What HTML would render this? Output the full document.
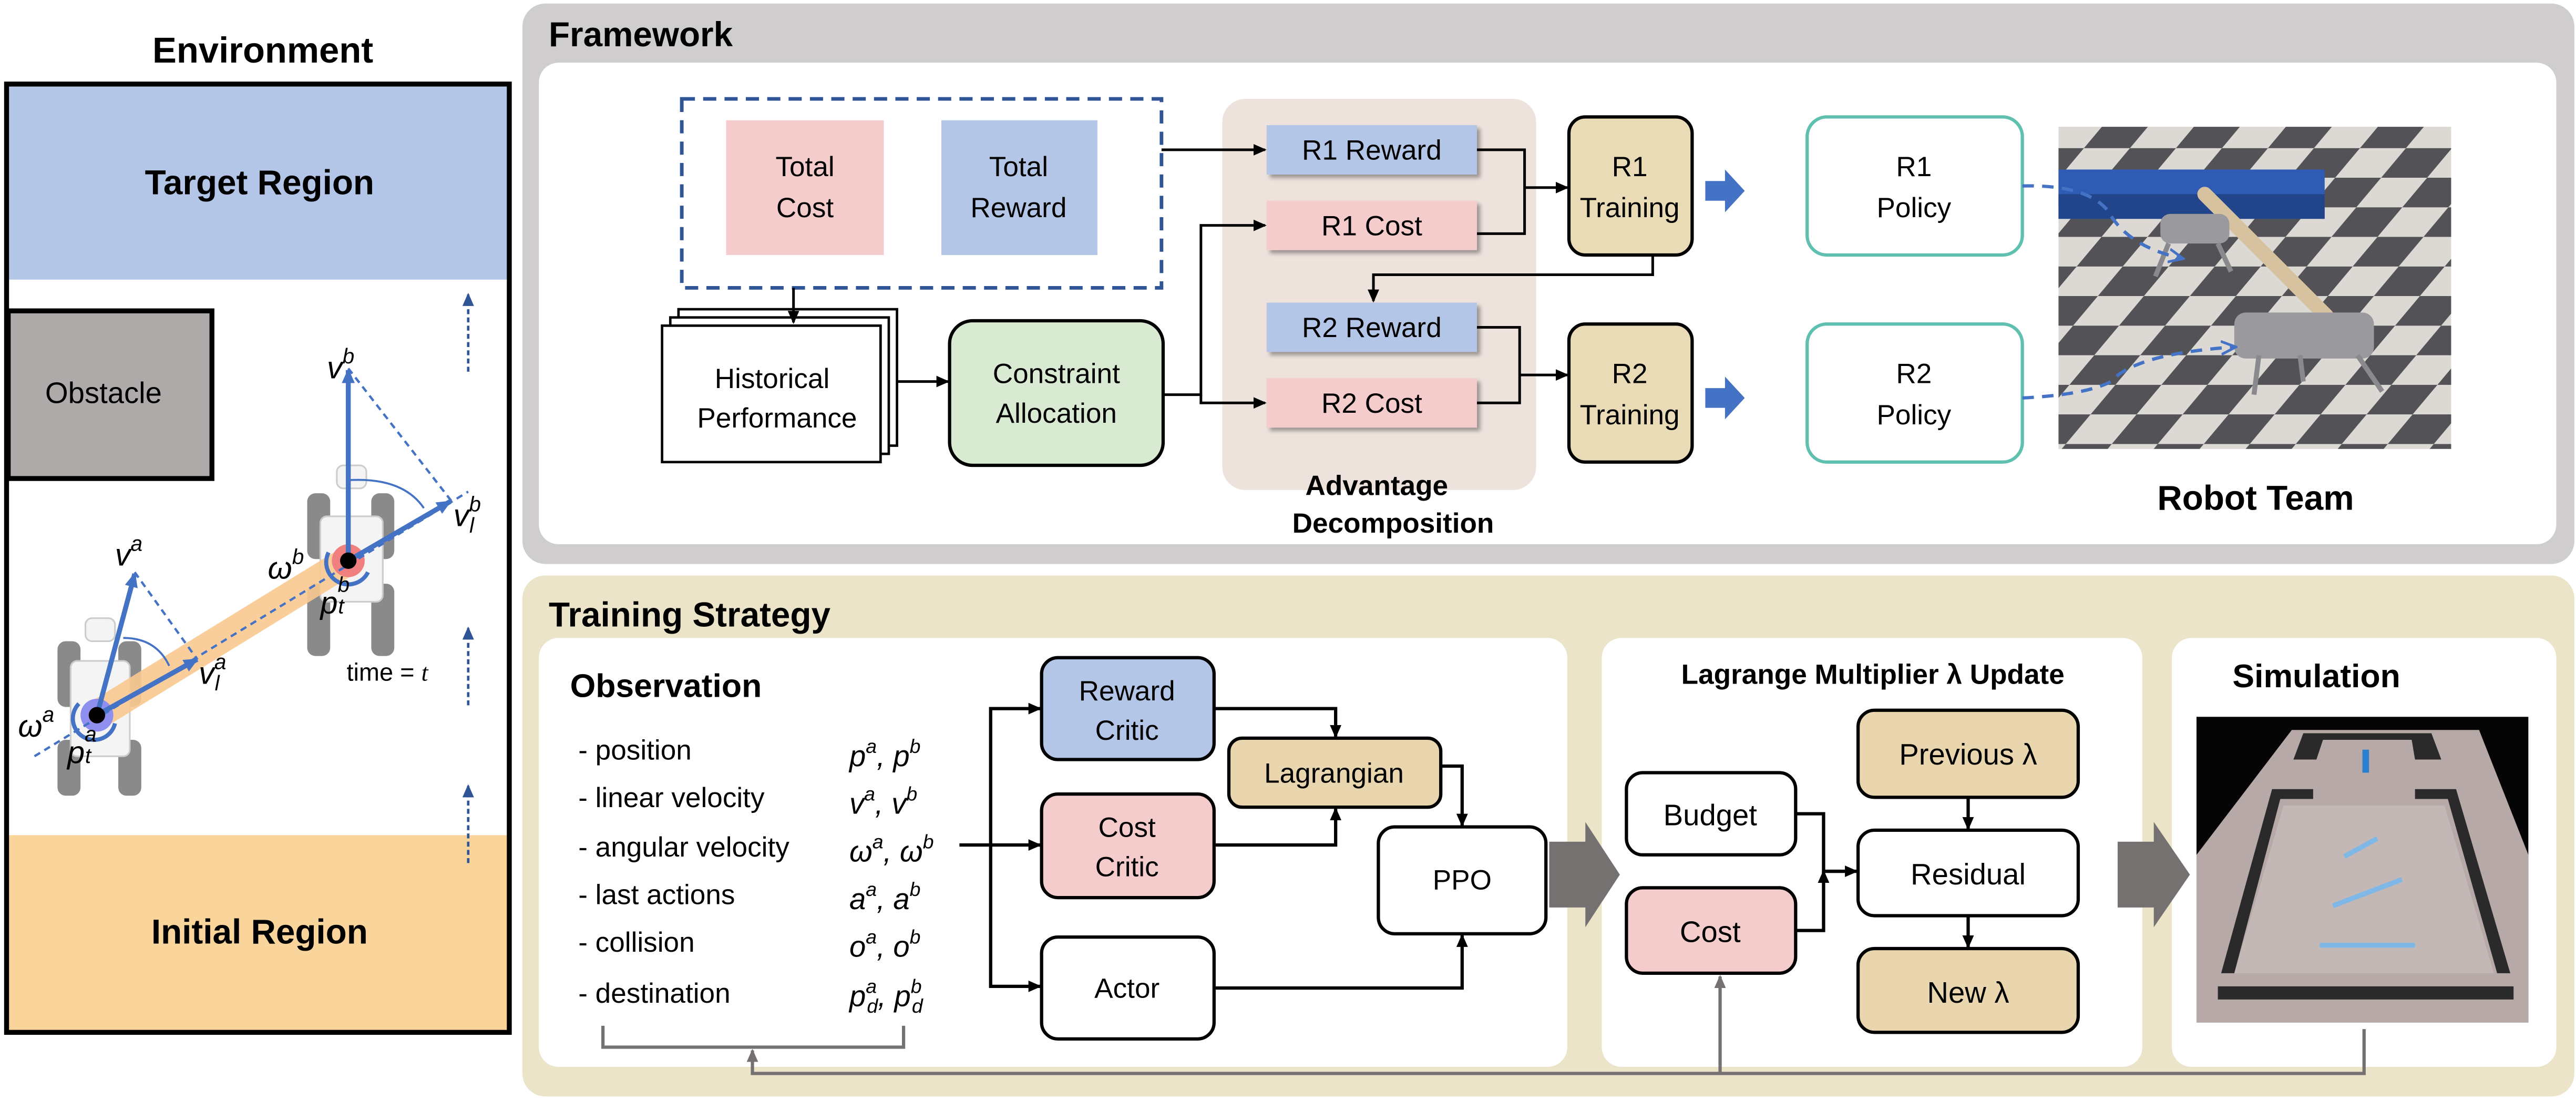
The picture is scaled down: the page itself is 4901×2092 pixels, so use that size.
<!DOCTYPE html>
<html><head><meta charset="utf-8"><style>
html,body{margin:0;padding:0;background:#fff;}
svg{display:block;}
text{font-family:"Liberation Sans",sans-serif;}
.m{font-family:"Liberation Serif",serif;font-style:italic;}
</style></head><body>
<svg width="4901" height="2092" viewBox="0 0 1568 669" xmlns="http://www.w3.org/2000/svg">
<defs>
<marker id="a" markerWidth="8" markerHeight="8" refX="7" refY="4" orient="auto" markerUnits="userSpaceOnUse"><path d="M0,0.5 L8,4 L0,7.5 Z" fill="#000"/></marker>
<marker id="ab" markerWidth="10" markerHeight="10" refX="8" refY="5" orient="auto" markerUnits="userSpaceOnUse"><path d="M0,1 L9,5 L0,9" fill="none" stroke="#4472c4" stroke-width="1.6"/></marker>
<marker id="ab2" markerWidth="9" markerHeight="9" refX="8" refY="4.5" orient="auto" markerUnits="userSpaceOnUse"><path d="M0,0.5 L9,4.5 L0,8.5 Z" fill="#4472c4"/></marker>
<marker id="ag" markerWidth="8" markerHeight="8" refX="7" refY="4" orient="auto" markerUnits="userSpaceOnUse"><path d="M0,0.5 L8,4 L0,7.5 Z" fill="#767171"/></marker>
<marker id="ad" markerWidth="8" markerHeight="8" refX="7" refY="4" orient="auto" markerUnits="userSpaceOnUse"><path d="M0,0.5 L8,4 L0,7.5 Z" fill="#2f5597"/></marker>
<pattern id="chk" width="56" height="36" patternUnits="userSpaceOnUse" patternTransform="skewX(-40)"><rect width="56" height="36" fill="#d8d4d0"/><rect width="28" height="18" fill="#3c3c40"/><rect x="28" y="18" width="28" height="18" fill="#3c3c40"/></pattern>
<filter id="sh" x="-10%" y="-20%" width="130%" height="150%"><feDropShadow dx="2" dy="2" stdDeviation="1.2" flood-color="#000" flood-opacity="0.35"/></filter>
</defs>

<!-- ENVIRONMENT -->
<text x="160" y="38" font-size="22" font-weight="bold" text-anchor="middle">Environment</text>
<rect x="4" y="51" width="306" height="577" fill="#fff"/>
<rect x="5" y="52" width="304" height="118" fill="#b4c6e7"/>
<rect x="5" y="508" width="304" height="119" fill="#f9d59b"/>
<rect x="4" y="51" width="306" height="577" fill="none" stroke="#000" stroke-width="3"/>
<rect x="5" y="189" width="124" height="102" fill="#aeaaaa" stroke="#000" stroke-width="3"/>
<text x="63" y="245" font-size="18" text-anchor="middle">Obstacle</text>
<text x="158" y="118" font-size="21" font-weight="bold" text-anchor="middle">Target Region</text>
<text x="158" y="574" font-size="21" font-weight="bold" text-anchor="middle">Initial Region</text>
<g stroke="#2f5597" stroke-width="1.5" stroke-dasharray="3,2" marker-end="url(#ad)">
<line x1="285" y1="226" x2="285" y2="179"/>
<line x1="285" y1="429" x2="285" y2="382"/>
<line x1="285" y1="525" x2="285" y2="478"/>
</g>
<text x="211" y="414" font-size="15">time = <tspan class="m">t</tspan></text>
<!-- robot a -->
<g fill="#8a8a8a">
<rect x="35" y="390" width="14" height="40" rx="5"/><rect x="72" y="390" width="14" height="40" rx="5"/>
<rect x="35" y="450" width="14" height="34" rx="5"/><rect x="72" y="450" width="14" height="34" rx="5"/>
<rect x="187" y="300" width="14" height="40" rx="5"/><rect x="226" y="300" width="14" height="40" rx="5"/>
<rect x="187" y="355" width="14" height="44" rx="5"/><rect x="226" y="355" width="14" height="44" rx="5"/>
</g>
<g fill="#f4f4f4" stroke="#ccc" stroke-width="1">
<rect x="43" y="402" width="36" height="58" rx="4"/>
<rect x="195" y="314" width="38" height="52" rx="4"/>
<rect x="52" y="376" width="18" height="14" rx="4"/>
<rect x="205" y="283" width="18" height="14" rx="4"/>
</g>
<polygon points="55,427 63,443 216,349 208,333" fill="#f9c98f" opacity="0.9"/>
<circle cx="59" cy="435" r="10" fill="#8f8ff0"/>
<circle cx="212" cy="341" r="10" fill="#f08080"/>
<path d="M48,428 A13,13 0 1 0 70,440" fill="none" stroke="#4472c4" stroke-width="2.5"/>
<path d="M200,336 A13,13 0 1 0 224,348" fill="none" stroke="#4472c4" stroke-width="2.5"/>
<g stroke="#4472c4" stroke-width="1.4" stroke-dasharray="4,3" fill="none">
<line x1="21" y1="460" x2="285" y2="299"/>
<line x1="82" y1="348" x2="120" y2="401"/>
<line x1="212" y1="224" x2="275" y2="305"/>
</g>
<g stroke="#4472c4" stroke-width="3" marker-end="url(#ab2)">
<line x1="59" y1="435" x2="82" y2="349"/>
<line x1="59" y1="435" x2="120" y2="401"/>
<line x1="212" y1="341" x2="212" y2="225"/>
<line x1="212" y1="341" x2="274" y2="305"/>
</g>
<path d="M75,388 Q95,388 103,405" fill="none" stroke="#4472c4" stroke-width="1.2"/>
<path d="M212,292 Q245,290 258,309" fill="none" stroke="#4472c4" stroke-width="1.2"/>
<circle cx="59" cy="435" r="5" fill="#000"/>
<circle cx="212" cy="341" r="5" fill="#000"/>
<g class="m" font-size="19">
<text x="70" y="344">v<tspan font-size="13" dy="-9">a</tspan></text>
<text x="121" y="416">v<tspan font-size="13" dy="-9">a</tspan><tspan font-size="13" dx="-7" dy="13">l</tspan></text>
<text x="199" y="230">v<tspan font-size="13" dy="-9">b</tspan></text>
<text x="276" y="320">v<tspan font-size="13" dy="-9">b</tspan><tspan font-size="13" dx="-7" dy="13">l</tspan></text>
<text x="11" y="448">ω<tspan font-size="13" dy="-9">a</tspan></text>
<text x="163" y="352">ω<tspan font-size="13" dy="-9">b</tspan></text>
<text x="41" y="464">p<tspan font-size="13" dy="-13">a</tspan><tspan font-size="13" dx="-7" dy="13">t</tspan></text>
<text x="195" y="373">p<tspan font-size="13" dy="-13">b</tspan><tspan font-size="13" dx="-7" dy="13">t</tspan></text>
</g>

<!-- FRAMEWORK PANEL -->
<rect x="318" y="2" width="1249" height="341" rx="14" fill="#cfcdcd"/>
<rect x="328" y="38" width="1228" height="293" rx="12" fill="#fff"/>
<text x="334" y="28" font-size="21" font-weight="bold">Framework</text>
<rect x="744" y="60" width="191" height="238" rx="14" fill="#ede2dc"/>
<rect x="415" y="60" width="292" height="115" fill="none" stroke="#2f5597" stroke-width="2.2" stroke-dasharray="8,5"/>
<rect x="442" y="73" width="96" height="82" fill="#f4cccc"/>
<rect x="573" y="73" width="95" height="82" fill="#b4c6e7"/>
<g font-size="17" text-anchor="middle">
<text x="490" y="107">Total</text><text x="490" y="132">Cost</text>
<text x="620" y="107">Total</text><text x="620" y="132">Reward</text>
</g>
<g stroke="#000" stroke-width="1.5" fill="#fff">
<rect x="413" y="188" width="133" height="83"/>
<rect x="408" y="193" width="133" height="83"/>
<rect x="403" y="198" width="133" height="83"/>
</g>
<text x="470" y="236" font-size="17" text-anchor="middle">Historical</text>
<text x="473" y="260" font-size="17" text-anchor="middle">Performance</text>
<rect x="578" y="195" width="130" height="88" rx="14" fill="#d9ead3" stroke="#000" stroke-width="2"/>
<text x="643" y="233" font-size="17" text-anchor="middle">Constraint</text>
<text x="643" y="257" font-size="17" text-anchor="middle">Allocation</text>
<g filter="url(#sh)">
<rect x="771" y="76" width="128" height="30" fill="#b4c6e7"/>
<rect x="771" y="122" width="128" height="30" fill="#f4cccc"/>
<rect x="771" y="184" width="128" height="30" fill="#b4c6e7"/>
<rect x="771" y="230" width="128" height="30" fill="#f4cccc"/>
</g>
<g font-size="17" text-anchor="middle">
<text x="835" y="97">R1 Reward</text><text x="835" y="143">R1 Cost</text>
<text x="835" y="205">R2 Reward</text><text x="835" y="251">R2 Cost</text>
</g>
<text x="838" y="301" font-size="17" font-weight="bold" text-anchor="middle">Advantage</text>
<text x="848" y="324" font-size="17" font-weight="bold" text-anchor="middle">Decomposition</text>
<g stroke="#000" stroke-width="2" fill="#e9dbb6">
<rect x="955" y="71" width="75" height="84" rx="10"/>
<rect x="955" y="197" width="75" height="84" rx="10"/>
</g>
<g font-size="17" text-anchor="middle">
<text x="992" y="107">R1</text><text x="992" y="132">Training</text>
<text x="992" y="233">R2</text><text x="992" y="258">Training</text>
</g>
<g stroke="#5fc0b0" stroke-width="2" fill="#fff">
<rect x="1100" y="71" width="131" height="84" rx="12"/>
<rect x="1100" y="197" width="131" height="84" rx="12"/>
</g>
<g font-size="17" text-anchor="middle">
<text x="1165" y="107">R1</text><text x="1165" y="132">Policy</text>
<text x="1165" y="233">R2</text><text x="1165" y="258">Policy</text>
</g>
<g fill="#4472c4">
<polygon points="1038,110 1050,110 1050,103 1062,116 1050,129 1050,122 1038,122"/>
<polygon points="1038,236 1050,236 1050,229 1062,242 1050,255 1050,248 1038,248"/>
</g>
<g stroke="#000" stroke-width="1.6" fill="none">
<line x1="707" y1="91" x2="770" y2="91" marker-end="url(#a)"/>
<line x1="483" y1="175" x2="483" y2="196" marker-end="url(#a)"/>
<line x1="546" y1="232" x2="577" y2="232" marker-end="url(#a)"/>
<polyline points="708,240 731,240 731,137 770,137" marker-end="url(#a)"/>
<polyline points="731,240 731,245 770,245" marker-end="url(#a)"/>
<polyline points="899,91 928,91 928,142 899,142"/>
<line x1="928" y1="114" x2="954" y2="114" marker-end="url(#a)"/>
<polyline points="1006,155 1006,167 836,167 836,183" marker-end="url(#a)"/>
<polyline points="899,199 925,199 925,245 899,245"/>
<line x1="925" y1="228" x2="954" y2="228" marker-end="url(#a)"/>
</g>
<!-- robot photo -->
<rect x="1253" y="77" width="239" height="196" fill="url(#chk)"/>
<rect x="1253" y="77" width="239" height="196" fill="#fff" opacity="0.12"/>
<rect x="1253" y="103" width="162" height="30" fill="#2e5bb4"/>
<rect x="1253" y="118" width="162" height="15" fill="#22448a"/>
<line x1="1342" y1="118" x2="1416" y2="192" stroke="#d7c2a0" stroke-width="9" stroke-linecap="round"/>
<g fill="#9a9a9e"><rect x="1315" y="130" width="42" height="18" rx="6"/><rect x="1360" y="190" width="85" height="28" rx="7"/></g>
<g stroke="#8a8a8e" stroke-width="3"><line x1="1320" y1="148" x2="1312" y2="168"/><line x1="1350" y1="148" x2="1358" y2="165"/><line x1="1375" y1="216" x2="1372" y2="240"/><line x1="1435" y1="216" x2="1450" y2="238"/><line x1="1400" y1="216" x2="1402" y2="232"/></g>
<g stroke="#4472c4" stroke-width="2" stroke-dasharray="7,5" fill="none" marker-end="url(#ab)">
<path d="M1231,113 Q1270,112 1283,128 Q1295,150 1328,157"/>
<path d="M1231,242 Q1270,240 1285,232 Q1300,215 1360,211"/>
</g>
<text x="1373" y="310" font-size="21" font-weight="bold" text-anchor="middle">Robot Team</text>

<!-- TRAINING PANEL -->
<rect x="318" y="350" width="1249" height="317" rx="14" fill="#ebe4c8"/>
<text x="334" y="381" font-size="21" font-weight="bold">Training Strategy</text>
<rect x="328" y="388" width="626" height="261" rx="12" fill="#fff"/>
<rect x="975" y="388" width="329" height="261" rx="12" fill="#fff"/>
<rect x="1322" y="388" width="234" height="261" rx="12" fill="#fff"/>
<text x="347" y="424" font-size="20" font-weight="bold">Observation</text>
<g font-size="17">
<text x="352" y="462">- position</text>
<text x="352" y="491">- linear velocity</text>
<text x="352" y="521">- angular velocity</text>
<text x="352" y="550">- last actions</text>
<text x="352" y="579">- collision</text>
<text x="352" y="610">- destination</text>
</g>
<g class="m" font-size="18">
<text x="517" y="466">p<tspan font-size="12" dy="-8">a</tspan><tspan dy="8">, p</tspan><tspan font-size="12" dy="-8">b</tspan></text>
<text x="517" y="495">v<tspan font-size="12" dy="-8">a</tspan><tspan dy="8">, v</tspan><tspan font-size="12" dy="-8">b</tspan></text>
<text x="517" y="524">ω<tspan font-size="12" dy="-8">a</tspan><tspan dy="8">, ω</tspan><tspan font-size="12" dy="-8">b</tspan></text>
<text x="517" y="553">a<tspan font-size="12" dy="-8">a</tspan><tspan dy="8">, a</tspan><tspan font-size="12" dy="-8">b</tspan></text>
<text x="517" y="582">o<tspan font-size="12" dy="-8">a</tspan><tspan dy="8">, o</tspan><tspan font-size="12" dy="-8">b</tspan></text>
<text x="517" y="612">p<tspan font-size="12" dy="-8">a</tspan><tspan font-size="12" dx="-6" dy="12">d</tspan><tspan dy="-4">, p</tspan><tspan font-size="12" dy="-8">b</tspan><tspan font-size="12" dx="-6" dy="12">d</tspan></text>
</g>
<g stroke="#000" stroke-width="2">
<rect x="634" y="400" width="105" height="62" rx="10" fill="#b4c6e7"/>
<rect x="634" y="483" width="105" height="63" rx="10" fill="#f4cccc"/>
<rect x="634" y="570" width="105" height="62" rx="10" fill="#fff"/>
<rect x="748" y="449" width="129" height="42" rx="8" fill="#e9d5ae"/>
<rect x="839" y="503" width="102" height="65" rx="10" fill="#fff"/>
</g>
<g font-size="17" text-anchor="middle">
<text x="686" y="426">Reward</text><text x="686" y="450">Critic</text>
<text x="686" y="509">Cost</text><text x="686" y="533">Critic</text>
<text x="686" y="607">Actor</text>
<text x="812" y="476">Lagrangian</text>
<text x="890" y="541">PPO</text>
</g>
<g stroke="#000" stroke-width="2" fill="none" marker-end="url(#a)">
<line x1="584" y1="514" x2="633" y2="514"/>
<polyline points="603,514 603,431 633,431"/>
<polyline points="603,514 603,600 633,600"/>
<polyline points="739,431 813,431 813,448"/>
<polyline points="739,514 813,514 813,492"/>
<polyline points="877,466 890,466 890,502"/>
<polyline points="739,601 890,601 890,569"/>
</g>
<polygon points="943,512 965,512 965,500 986,532 965,564 965,552 943,552" fill="#767171"/>
<polygon points="1289,512 1311,512 1311,500 1333,532 1311,564 1311,552 1289,552" fill="#767171"/>
<text x="1140" y="416" font-size="17" font-weight="bold" text-anchor="middle">Lagrange Multiplier λ Update</text>
<g stroke="#000" stroke-width="2">
<rect x="990" y="470" width="103" height="50" rx="10" fill="#fff"/>
<rect x="990" y="540" width="103" height="52" rx="10" fill="#f4cccc"/>
<rect x="1131" y="432" width="134" height="53" rx="10" fill="#e9d5ae"/>
<rect x="1131" y="505" width="134" height="52" rx="10" fill="#fff"/>
<rect x="1131" y="577" width="134" height="51" rx="10" fill="#e9d5ae"/>
</g>
<g font-size="18" text-anchor="middle">
<text x="1041" y="502">Budget</text><text x="1041" y="573">Cost</text>
<text x="1198" y="465">Previous λ</text><text x="1198" y="538">Residual</text><text x="1198" y="610">New λ</text>
</g>
<g stroke="#000" stroke-width="2" fill="none" marker-end="url(#a)">
<polyline points="1093,495 1110,495 1110,530 1130,530"/>
<polyline points="1093,566 1110,566 1110,530"/>
<line x1="1198" y1="485" x2="1198" y2="504"/>
<line x1="1198" y1="557" x2="1198" y2="576"/>
</g>
<!-- Simulation -->
<text x="1410" y="418" font-size="20" font-weight="bold" text-anchor="middle">Simulation</text>
<rect x="1337" y="436" width="202" height="186" fill="#050505"/>
<polygon points="1395,444 1509,444 1539,520 1539,622 1337,622 1337,520" fill="#b7a9a8"/>
<g fill="#2a2a2a">
<polygon points="1402,446 1480,446 1486,462 1470,462 1468,450 1414,450 1410,462 1396,462"/>
<polygon points="1383,480 1408,480 1408,486 1388,486 1360,592 1352,592"/>
<polygon points="1470,480 1495,480 1528,592 1520,592 1490,486 1470,486"/>
<rect x="1350" y="600" width="180" height="8"/>
</g>
<polygon points="1390,490 1488,490 1518,592 1360,592" fill="#c4b8b7"/>
<line x1="1440" y1="456" x2="1440" y2="470" stroke="#2a80d0" stroke-width="4"/>
<line x1="1412" y1="575" x2="1470" y2="575" stroke="#7fb8e6" stroke-width="3"/>
<line x1="1420" y1="551" x2="1462" y2="535" stroke="#7fb8e6" stroke-width="3"/>
<line x1="1427" y1="521" x2="1447" y2="510" stroke="#7fb8e6" stroke-width="3"/>
<!-- feedback -->
<g stroke="#767171" stroke-width="2" fill="none">
<polyline points="1439,626 1439,653 458,653 458,639" marker-end="url(#ag)"/>
<line x1="1047" y1="653" x2="1047" y2="594" marker-end="url(#ag)"/>
<polyline points="367,624 367,637 550,637 550,624"/>
</g>
</svg>
</body></html>
